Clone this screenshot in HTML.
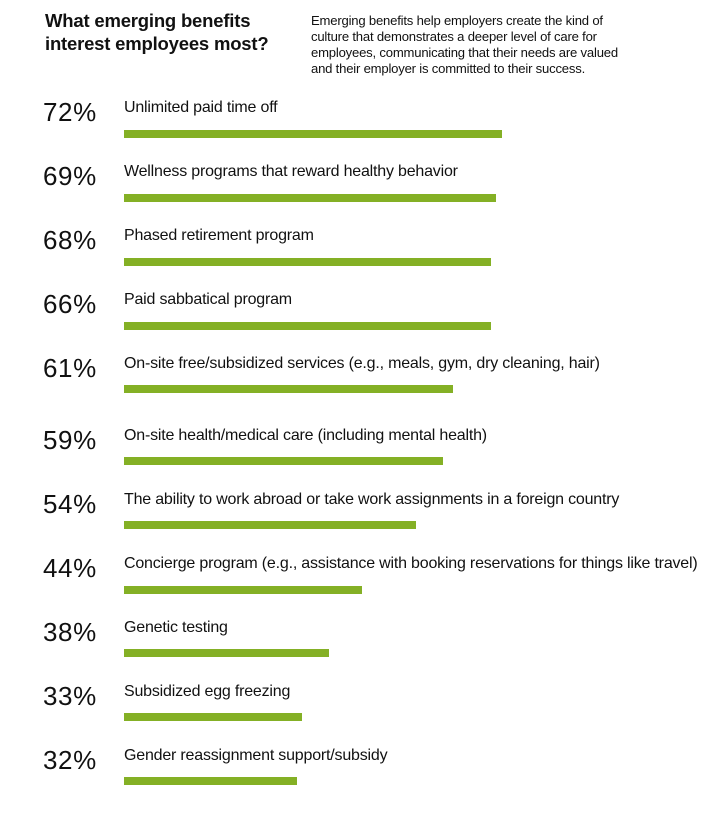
<!DOCTYPE html>
<html><head><style>
body{margin:0;width:714px;height:818px;background:#fff;position:relative;font-family:"Liberation Sans",sans-serif;color:#111;overflow:hidden}
.t{position:absolute;left:45px;top:9px;font-size:18.5px;font-weight:bold;line-height:23px;letter-spacing:-0.2px}
.p{position:absolute;left:311px;top:13px;font-size:13.1px;line-height:16px;letter-spacing:-0.2px}
.n{position:absolute;left:43px;font-size:26px;font-weight:normal;letter-spacing:0.6px}
.l{position:absolute;left:124px;font-size:16px;letter-spacing:-0.2px;white-space:nowrap}
.b{position:absolute;left:124px;height:8px;background:#84b025}
</style></head><body>
<div class="t">What emerging benefits<br>interest employees most?</div>
<div class="p">Emerging benefits help employers create the kind of<br>culture that demonstrates a deeper level of care for<br>employees, communicating that their needs are valued<br>and their employer is committed to their success.</div>

<div class="n" style="top:97px">72%</div><div class="l" style="top:99px">Unlimited paid time off</div><div class="b" style="top:130px;width:378px"></div>
<div class="n" style="top:161px">69%</div><div class="l" style="top:163px">Wellness programs that reward healthy behavior</div><div class="b" style="top:194px;width:372px"></div>
<div class="n" style="top:225px">68%</div><div class="l" style="top:227px">Phased retirement program</div><div class="b" style="top:258px;width:367px"></div>
<div class="n" style="top:289px">66%</div><div class="l" style="top:291px">Paid sabbatical program</div><div class="b" style="top:322px;width:367px"></div>
<div class="n" style="top:353px">61%</div><div class="l" style="top:355px">On-site free/subsidized services (e.g., meals, gym, dry cleaning, hair)</div><div class="b" style="top:385px;width:329px"></div>
<div class="n" style="top:425px">59%</div><div class="l" style="top:427px">On-site health/medical care (including mental health)</div><div class="b" style="top:457px;width:319px"></div>
<div class="n" style="top:489px">54%</div><div class="l" style="top:491px">The ability to work abroad or take work assignments in a foreign country</div><div class="b" style="top:521px;width:292px"></div>
<div class="n" style="top:553px">44%</div><div class="l" style="top:555px">Concierge program (e.g., assistance with booking reservations for things like travel)</div><div class="b" style="top:586px;width:238px"></div>
<div class="n" style="top:617px">38%</div><div class="l" style="top:619px">Genetic testing</div><div class="b" style="top:649px;width:205px"></div>
<div class="n" style="top:681px">33%</div><div class="l" style="top:683px">Subsidized egg freezing</div><div class="b" style="top:713px;width:178px"></div>
<div class="n" style="top:745px">32%</div><div class="l" style="top:747px">Gender reassignment support/subsidy</div><div class="b" style="top:777px;width:173px"></div>
</body></html>
